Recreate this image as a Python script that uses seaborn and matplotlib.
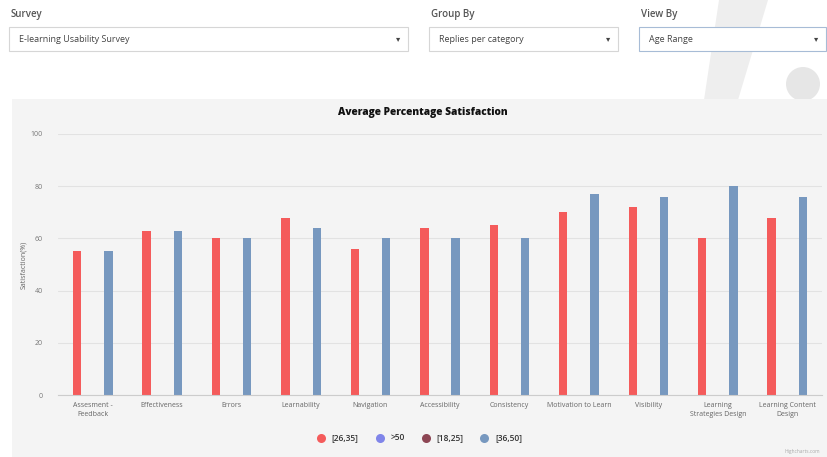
import matplotlib
matplotlib.use("Agg")
import matplotlib.pyplot as plt
import seaborn as sns
import pandas as pd
from matplotlib.patches import Rectangle, Polygon, Ellipse
from matplotlib.lines import Line2D

# ---- data ----
categories = ["Assesment -\nFeedback", "Effectiveness", "Errors", "Learnability",
              "Navigation", "Accessibility", "Consistency", "Motivation to Learn",
              "Visibility", "Learning\nStrategies Design", "Learning Content\nDesign"]
series_names = ["[26,35]", ">50", "[18,25]", "[36,50]"]
vals_26_35 = [55, 63, 60, 68, 56, 64, 65, 70, 72, 60, 68]
vals_36_50 = [55, 63, 60, 64, 60, 60, 60, 77, 76, 80, 76]
series_colors = ["#f45b5b", "#8085e9", "#8d4654", "#7798bf"]
y_ticks = [0, 20, 40, 60, 80, 100]

df = pd.DataFrame({
    "category": categories * 2,
    "series": ["[26,35]"] * len(categories) + ["[36,50]"] * len(categories),
    "value": vals_26_35 + vals_36_50,
})

W, H = 827, 457
def fx(px): return px / W
def fy(py): return 1 - py / H

sns.set_theme(style="white")
plt.rcParams["font.family"] = ["Open Sans", "DejaVu Sans"]

fig = plt.figure(figsize=(W / 100, H / 100), dpi=100)
fig.patch.set_facecolor("white")

# decorative background shape (top right)
fig.patches.append(Polygon([(fx(719), fy(0)), (fx(768), fy(0)), (fx(738), fy(100)), (fx(704), fy(100))],
                           closed=True, transform=fig.transFigure, facecolor="#eeeeee", edgecolor="none", zorder=-3))
fig.patches.append(Ellipse((fx(803), fy(84)), 34 / W, 34 / H, transform=fig.transFigure,
                           facecolor="#e6e6e6", edgecolor="none", zorder=-3))

# dropdowns
def dropdown(label, x0, x1, value, edge="#d6d6d6"):
    fig.text(fx(x0 + 2), fy(15), label, fontsize=7, fontweight="semibold", color="#555555", va="center", ha="left")
    fig.patches.append(Rectangle((fx(x0), fy(51)), (x1 - x0) / W, 24 / H, transform=fig.transFigure,
                                 facecolor="white", edgecolor=edge, linewidth=0.8, zorder=-1))
    fig.text(fx(x0 + 10), fy(39), value, fontsize=6.5, color="#444444", va="center", ha="left", zorder=2)
    fig.text(fx(x1 - 10), fy(39), "\u25BE", fontsize=6, color="#444444", va="center", ha="center",
             family="DejaVu Sans", zorder=2)

dropdown("Survey", 9, 408, "E-learning Usability Survey")
dropdown("Group By", 429, 618, "Replies per category")
dropdown("View By", 639, 826, "Age Range", edge="#a7bcd6")

# chart panel
fig.patches.append(Rectangle((fx(12), fy(457)), (W - 12) / W, (457 - 99) / H, transform=fig.transFigure,
                             facecolor="#f4f4f4", edgecolor="none", zorder=-2))

ax = fig.add_axes([fx(58), fy(395), (822 - 58) / W, (395 - 134) / H])
ax.set_facecolor("none")
ax.set_zorder(1)

sns.barplot(data=df, x="category", y="value", hue="series", hue_order=series_names,
            order=categories, palette=dict(zip(series_names, series_colors)),
            width=0.6, gap=0.2, legend=False, ax=ax, saturation=1, errorbar=None,
            linewidth=0)

ax.set_ylim(0, 100)
ax.set_xlim(-0.5, len(categories) - 0.5)
ax.set_yticks(y_ticks)
ax.set_yticklabels([str(t) for t in y_ticks], fontsize=5, color="#777777")
ax.yaxis.grid(True, color="#e2e2e2", linewidth=0.8)
ax.set_axisbelow(True)
ax.set_xlabel("")
ax.set_ylabel("Satisfaction(%)", fontsize=5, color="#666666")
ax.yaxis.set_label_coords((27 - 58) / (822 - 58), 0.5)
ax.set_xticks(range(len(categories)))
ax.set_xticklabels(categories, fontsize=5, color="#666666", linespacing=1.4)
ax.tick_params(axis="x", which="major", length=0, pad=5)
ax.tick_params(axis="y", length=0, pad=11)
ax.set_xticks([i - 0.5 for i in range(len(categories) + 1)], minor=True)
ax.tick_params(axis="x", which="minor", length=5, color="#cccccc", width=0.8, direction="out")
for s in ["top", "right", "left"]:
    ax.spines[s].set_visible(False)
ax.spines["bottom"].set_color("#cccccc")
ax.spines["bottom"].set_linewidth(0.8)

fig.text(fx(423), fy(113), "Average Percentage Satisfaction", fontsize=7.3, fontweight="heavy",
         color="#111111", ha="center", va="center")

handles = [Line2D([0], [0], marker="o", linestyle="none", markersize=6.5, markerfacecolor=c,
                  markeredgecolor="none") for c in series_colors]
fig.legend(handles, series_names, loc="center", bbox_to_anchor=(fx(419), fy(438)), ncol=4,
           frameon=False, prop={"size": 6, "weight": "semibold"}, handletextpad=0.7, handlelength=1.2,
           columnspacing=1.9, labelcolor="#333333")

fig.text(fx(820), fy(452), "Highcharts.com", fontsize=3.5, color="#aaaaaa", ha="right", va="center")

fig.savefig("out.png", dpi=100, facecolor=fig.get_facecolor())
